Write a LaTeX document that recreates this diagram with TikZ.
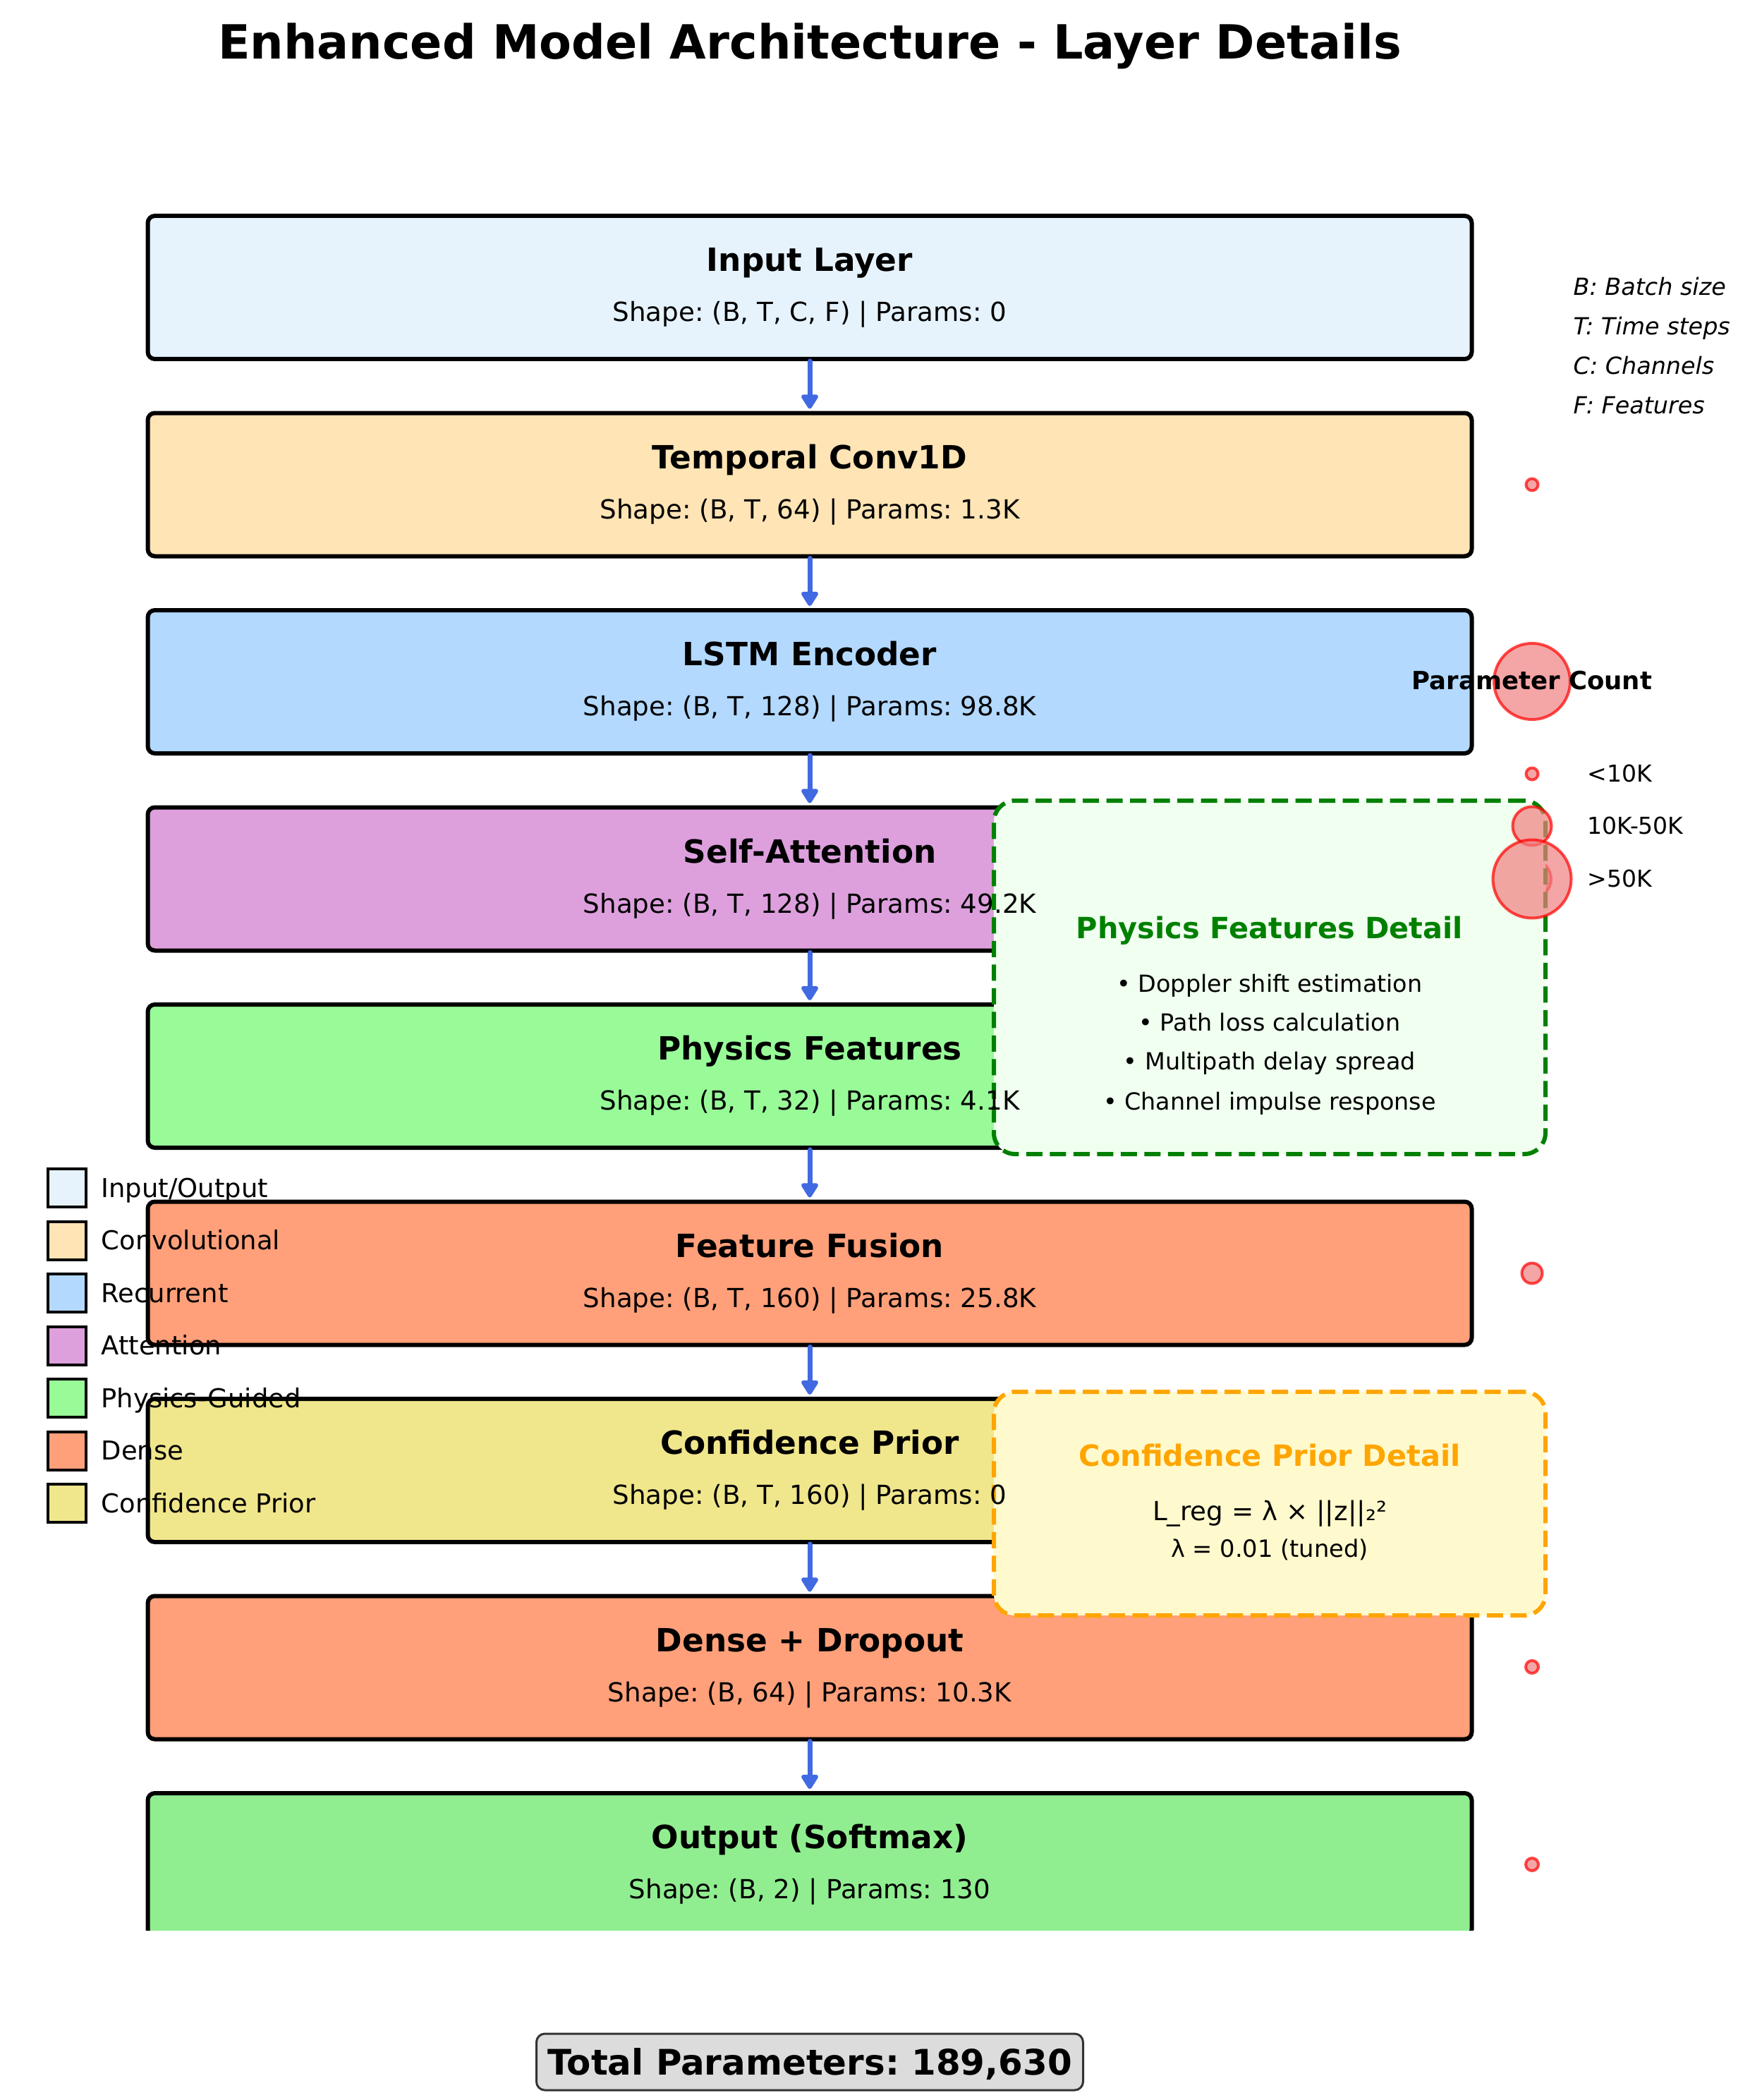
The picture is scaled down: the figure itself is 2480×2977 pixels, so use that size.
\documentclass[tikz,border=0pt]{standalone}
\usepackage{fontspec}
\setmainfont{DejaVu Sans}[ItalicFont={DejaVu Sans Oblique},BoldFont={DejaVu Sans Bold},BoldItalicFont={DejaVu Sans Bold Oblique}]
\usetikzlibrary{arrows.meta}
\frenchspacing
\definecolor{cInput}{HTML}{E6F3FD}
\definecolor{cConv}{HTML}{FFE4B5}
\definecolor{cRec}{HTML}{B3D9FF}
\definecolor{cAtt}{HTML}{DDA0DD}
\definecolor{cPhys}{HTML}{98FB98}
\definecolor{cDense}{HTML}{FFA07A}
\definecolor{cConf}{HTML}{F0E68C}
\definecolor{cOut}{HTML}{90EE90}
\definecolor{royal}{HTML}{4169E1}
\definecolor{lcoral}{HTML}{F08080}
\definecolor{dgreen}{HTML}{008000}
\definecolor{honeyd}{HTML}{F0FFF0}
\definecolor{orng}{HTML}{FFA500}
\definecolor{lchiffon}{HTML}{FFFACD}
\definecolor{gainsb}{HTML}{DCDCDC}
\definecolor{dgray}{HTML}{333333}
\tikzset{
  txt/.style={inner sep=0pt, font=\fontsize{#1}{#1}\selectfont, text height={0.86*#1pt}, text depth={0.14*#1pt}},
  btxt/.style={inner sep=0pt, font=\fontsize{#1}{#1}\selectfont\bfseries, text height={0.86*#1pt}, text depth={0.14*#1pt}},
  layerbox/.style={draw=black, line width=0.6mm, rounded corners=1mm, minimum width=187.7mm, minimum height=20.3mm, inner sep=0pt},
  lname/.style={btxt=12.9},
  lshape/.style={txt=10.6},
  flow/.style={draw=royal, line width=0.7mm, line cap=round, shorten >=0.3mm, -{Triangle[width=2.7mm,length=2.3mm,round]}},
  pcirc/.style={circle, draw=red, draw opacity=0.7, fill=lcoral, fill opacity=0.7, line width=0.4mm, inner sep=0pt},
  detailbox/.style={draw, line width=0.6mm, dash pattern=on 2.3mm off 1.05mm, rounded corners=3mm, minimum width=78.2mm, inner sep=0pt},
  dtitle/.style={btxt=11.8},
  bullet/.style={txt=9.5},
  legsq/.style={draw=black, line width=0.4mm, minimum size=5.4mm, inner sep=0pt},
  legtxt/.style={txt=10.5, anchor=west},
  note/.style={txt=9.5, anchor=west, font=\fontsize{9.5}{9.5}\selectfont\itshape},
  sizetxt/.style={txt=9.4, anchor=west}
}
\newcommand\layerbox[3]{%
  \node[layerbox, fill=#3] (#1) at (1148,#2) {};
}
\newcommand\layertext[4]{%
  \node[lname] (#1n) at (1148,{#2-39}) {#3};
  \node[lshape] (#1s) at (1148,{#2+35}) {#4};
}
\begin{document}
\begin{tikzpicture}[x=0.1mm,y=-0.1mm]
\useasboundingbox (0,0) rectangle (2480,2977);
\fill[white] (0,0) rectangle (2480,2977);

\node[btxt=19] (title) at (1148,59) {Enhanced Model Architecture - Layer Details};

% layer boxes
\layerbox{L0}{407.5}{cInput}
\layerbox{L1}{687}{cConv}
\layerbox{L2}{966.5}{cRec}
\layerbox{L3}{1246}{cAtt}
\layerbox{L4}{1525.5}{cPhys}
\layerbox{L5}{1805}{cDense}
\layerbox{L6}{2084.5}{cConf}
\layerbox{L7}{2364}{cDense}
\begin{scope}
\clip (0,0) rectangle (2480,2736);
\layerbox{L8}{2643.5}{cOut}
\end{scope}

% arrows
\draw[flow] (L0.south) -- (L1.north);
\draw[flow] (L1.south) -- (L2.north);
\draw[flow] (L2.south) -- (L3.north);
\draw[flow] (L3.south) -- (L4.north);
\draw[flow] (L4.south) -- (L5.north);
\draw[flow] (L5.south) -- (L6.north);
\draw[flow] (L6.south) -- (L7.north);
\draw[flow] (L7.south) -- (L8.north);

% parameter circles per layer
\node[pcirc, minimum size=1.7mm] (p1) at (2172,687) {};
\node[pcirc, minimum size=10.8mm] (p2) at (2172,966) {};
\node[pcirc, minimum size=5.4mm] (p3) at (2172,1246) {};
\node[pcirc, minimum size=2.9mm] (p5) at (2172,1805) {};
\node[pcirc, minimum size=1.8mm] (p7) at (2172,2363) {};
\node[pcirc, minimum size=1.8mm] (p8) at (2172,2643) {};

% detail boxes
\node[detailbox, draw=dgreen, fill=honeyd, minimum height=50.1mm] (phys) at (1800,1385.5) {};
\node[dtitle, text=dgreen] (physT) at (1800,1316) {Physics Features Detail};
\node[bullet] (pb1) at (1800,1394) {• Doppler shift estimation};
\node[bullet] (pb2) at (1800,1449) {• Path loss calculation};
\node[bullet] (pb3) at (1800,1504) {• Multipath delay spread};
\node[bullet] (pb4) at (1800,1561) {• Channel impulse response};

\node[detailbox, draw=orng, fill=lchiffon, minimum height=31.7mm] (conf) at (1800,2131.5) {};
\node[dtitle, text=orng] (confT) at (1800,2064) {Confidence Prior Detail};
\node[txt=10.6] (confF) at (1800,2142) {L\_reg = λ × ||z||₂²};
\node[txt=9.6] (confL) at (1800,2195) {λ = 0.01 (tuned)};

% layer texts (drawn above the detail boxes)
\layertext{L0}{407.5}{Input Layer}{Shape: (B, T, C, F) | Params: 0}
\layertext{L1}{687}{Temporal Conv1D}{Shape: (B, T, 64) | Params: 1.3K}
\layertext{L2}{966.5}{LSTM Encoder}{Shape: (B, T, 128) | Params: 98.8K}
\layertext{L3}{1246}{Self-Attention}{Shape: (B, T, 128) | Params: 49.2K}
\layertext{L4}{1525.5}{Physics Features}{Shape: (B, T, 32) | Params: 4.1K}
\layertext{L5}{1805}{Feature Fusion}{Shape: (B, T, 160) | Params: 25.8K}
\layertext{L6}{2084.5}{Confidence Prior}{Shape: (B, T, 160) | Params: 0}
\layertext{L7}{2364}{Dense + Dropout}{Shape: (B, 64) | Params: 10.3K}
\layertext{L8}{2643.5}{Output (Softmax)}{Shape: (B, 2) | Params: 130}

% notes
\node[note] (n1) at (2230,406) {B: Batch size};
\node[note] (n2) at (2230,462) {T: Time steps};
\node[note] (n3) at (2230,518) {C: Channels};
\node[note] (n4) at (2230,574) {F: Features};

% parameter count legend
\node[btxt=10.1] (pc) at (2172,965) {Parameter Count};
\node[pcirc, minimum size=1.7mm] (s1) at (2172,1097) {};
\node[pcirc, minimum size=5.5mm] (s2) at (2172,1171) {};
\node[pcirc, minimum size=11.1mm] (s3) at (2172,1246) {};
\node[sizetxt] (s1t) at (2250,1097) {<10K};
\node[sizetxt] (s2t) at (2250,1171) {10K-50K};
\node[sizetxt] (s3t) at (2250,1246) {>50K};

% type legend
\node[legsq, fill=cInput] (g1) at (95,1684) {};
\node[legsq, fill=cConv] (g2) at (95,1758.5) {};
\node[legsq, fill=cRec] (g3) at (95,1833) {};
\node[legsq, fill=cAtt] (g4) at (95,1907.5) {};
\node[legsq, fill=cPhys] (g5) at (95,1982) {};
\node[legsq, fill=cDense] (g6) at (95,2056.5) {};
\node[legsq, fill=cConf] (g7) at (95,2131) {};
\node[legtxt] (g1t) at (143,1684) {Input/Output};
\node[legtxt] (g2t) at (143,1758.5) {Convolutional};
\node[legtxt] (g3t) at (143,1833) {Recurrent};
\node[legtxt] (g4t) at (143,1907.5) {Attention};
\node[legtxt] (g5t) at (143,1982) {Physics-Guided};
\node[legtxt] (g6t) at (143,2056.5) {Dense};
\node[legtxt] (g7t) at (143,2131) {Confidence Prior};

% total
\node[draw=dgray, line width=0.3mm, fill=gainsb, rounded corners=1.2mm, minimum width=77.5mm, minimum height=8mm, inner sep=0pt] (totbox) at (1148,2923) {};
\node[btxt=14.2] (tot) at (1148,2923) {Total Parameters: 189,630};
\end{tikzpicture}
\end{document}
